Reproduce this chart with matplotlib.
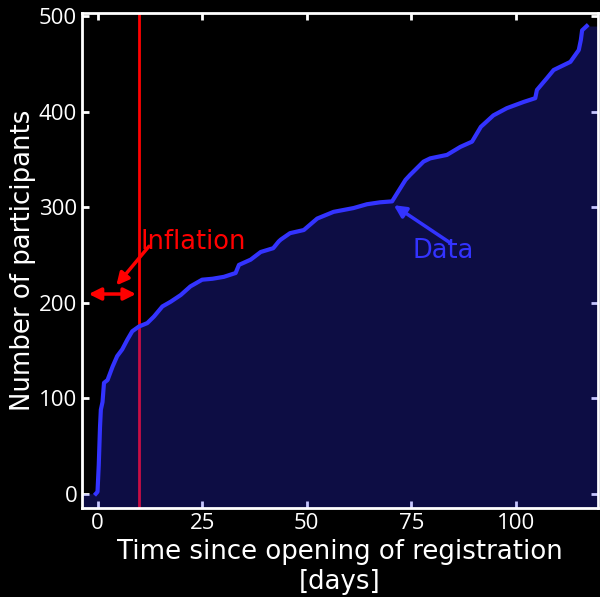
import matplotlib
matplotlib.use("Agg")
import matplotlib.pyplot as plt
import numpy as np

# Cumulative registrations.
days = [-4, -0.4, 0.0, 0.3, 0.6, 0.8, 1.2, 1.55, 2.4, 3.0, 3.6, 4.7, 5.9, 7.1, 8.3, 9.9,
        11.9, 13.5, 15.5, 17.5, 19.9, 22.2, 25.0, 27.5, 30.2, 33.0, 33.8, 36.6, 39.0,
        42.0, 43.3, 43.8, 46.0, 49.3, 52.5, 56.4, 61.2, 64.4, 67.5, 70.4, 71.6, 73.6,
        74.7, 77.9, 79.5, 83.5, 86.7, 89.5, 91.6, 94.6, 97.8, 101.8, 104.6, 105.0,
        107.4, 109.0, 113.0, 115.0, 115.5, 115.8, 116.9]
participants = [0, 0, 2, 30, 70, 88, 96, 116, 119, 126, 133, 144, 151, 161, 170, 175,
                178.6, 185.5, 196, 201, 208, 217, 224, 225, 227, 231, 239.5, 245, 253,
                257, 264, 266, 272.7, 276, 288, 295, 299, 303, 305, 306, 314.5, 328.5,
                333.7, 347.6, 351, 354.6, 363, 368.5, 384, 396, 403.5, 410, 414, 422.6,
                435, 443.5, 452, 464.4, 475, 485, 489.5]

x_ticks = [0, 25, 50, 75, 100]
y_ticks = [0, 100, 200, 300, 400, 500]
x_limits = [-3.7, 119.6]
y_limits = [-15, 503]
inflation_day = 10

line_color = "#3333ff"
plt.rcParams['font.family'] = ['Open Sans', 'DejaVu Sans']

fig = plt.figure(figsize=(6.0, 5.97), dpi=100, facecolor="black")
ax = fig.add_axes([0.1367, 0.149, 0.8600, 0.829])
ax.set_facecolor("black")

ax.axvline(inflation_day, color="red", linewidth=2, zorder=1)           # inflation marker
fill_x = days + [x_limits[1]]
fill_y = participants + [participants[-1]]
ax.fill_between(fill_x, fill_y, y_limits[0], color=line_color, alpha=0.27,
                linewidth=0, zorder=2)                                  # area under curve
ax.plot(days[1:], participants[1:], color=line_color, linewidth=3, zorder=3)

# Annotations
ax.annotate("", xy=(-2.1, 209), xytext=(9.2, 209),
            arrowprops=dict(arrowstyle="<|-|>", color="red", lw=2.5,
                            mutation_scale=18, shrinkA=0, shrinkB=0))
ax.annotate("", xy=(4.5, 218), xytext=(12.3, 259),
            arrowprops=dict(arrowstyle="-|>", color="red", lw=2.5,
                            mutation_scale=18, shrinkA=0, shrinkB=0))
ax.text(10.3, 263, "Inflation", color="red", fontsize=18.5, va="center", ha="left",
        family="DejaVu Sans")
ax.annotate("", xy=(70.8, 302), xytext=(84.3, 262.5),
            arrowprops=dict(arrowstyle="-|>", color=line_color, lw=2.5,
                            mutation_scale=18, shrinkA=0, shrinkB=0))
ax.text(75.3, 254, "Data", color=line_color, fontsize=18.5, va="center", ha="left",
        family="DejaVu Sans")

ax.set_xlim(x_limits)
ax.set_ylim(y_limits)
ax.set_xticks(x_ticks)
ax.set_yticks(y_ticks)
ax.tick_params(direction="in", colors="white", labelsize=16, length=5, width=2,
               top=True, right=True)
for spine in ax.spines.values():
    spine.set_color("white")
    spine.set_linewidth(2)

ax.set_xlabel("Time since opening of registration\n[days]", color="white",
              fontsize=18.7, labelpad=4, family="DejaVu Sans")
ax.set_ylabel("Number of participants", color="white", fontsize=18.7, labelpad=2,
              family="DejaVu Sans")

fig.savefig("out.png", dpi=100, facecolor="black")
